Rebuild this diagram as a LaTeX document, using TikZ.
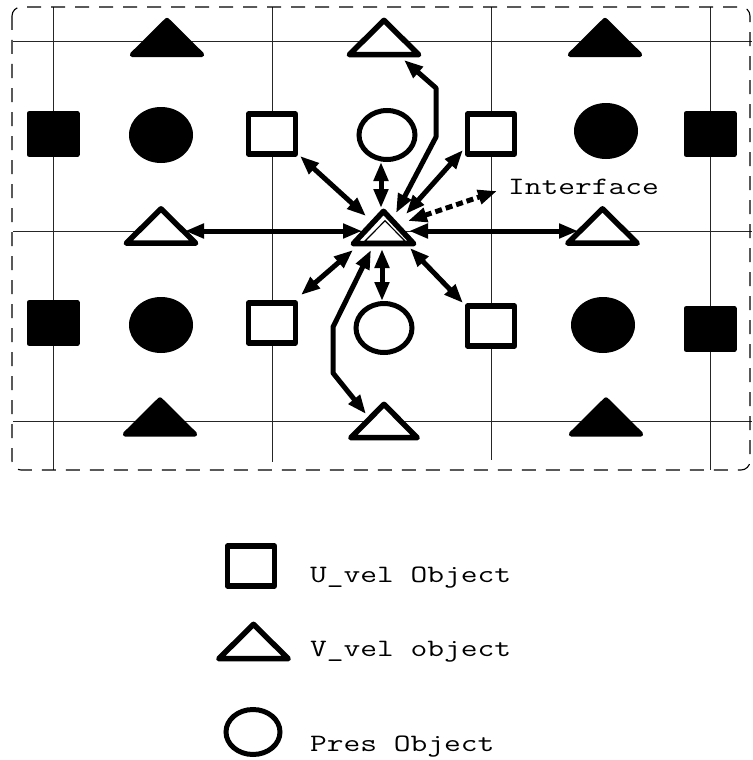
\documentclass[tikz,border=0pt]{standalone}
\usetikzlibrary{arrows.meta,shapes.geometric,calc}
\newcommand\trishape[2]{\path[#2] (#1.north) -- (#1.south east) -- (#1.south west) -- cycle;}
\newcommand\wide[1]{\scalebox{1.3}[1]{#1}}
\tikzset{
 gridline/.style={line width=1pt, black!85},
 borderline/.style={line width=1.1pt, dash pattern=on 14pt off 10pt, rounded corners=9pt},
 ubox/.style={rectangle, draw, fill=white, line width=5.5pt, line join=round, minimum width=47pt, minimum height=40pt, inner sep=0pt},
 ubfill/.style={rectangle, draw, fill=black, line width=5pt, line join=round, minimum width=48pt, minimum height=41pt, inner sep=0pt},
 pcirc/.style={ellipse, draw, fill=white, line width=5pt, minimum width=56pt, minimum height=49pt, inner sep=0pt},
 pfill/.style={ellipse, fill=black, minimum width=64pt, minimum height=56pt, inner sep=0pt},
 tribox/.style={rectangle, inner sep=0pt, minimum width=69pt, minimum height=34pt},
 triopen/.style={draw, fill=white, line width=5.5pt, line join=round},
 trifill/.style={draw, fill=black, line width=5pt, line join=round},
 dbl/.style={line width=5pt, line join=round, {Triangle[length=19pt,width=14pt]}-{Triangle[length=19pt,width=14pt]}},
 dashdbl/.style={dbl, dash pattern=on 7pt off 4pt},
 lbl/.style={font=\ttfamily\fontsize{25}{30}\selectfont, inner sep=0pt, anchor=base west},
}
\begin{document}
\begin{tikzpicture}[x=1pt,y=-1pt]
\useasboundingbox (0,0) rectangle (752,760);
% grid
\foreach \gx/\gb in {53/470,272/462,491/460,710/470} \draw[gridline] (\gx,7) -- (\gx,\gb);
\foreach \gy in {42,231,421} \draw[gridline] (13,\gy) -- (752,\gy);
\draw[borderline] (12,7) rectangle (750,470);
% row A
\node[tribox] (tA) at (167,37.5) {};
\node[tribox] (tB) at (384,37.5) {};
\node[tribox] (tC) at (605,37.5) {};
\trishape{tA}{trifill}
\trishape{tB}{triopen}
\trishape{tC}{trifill}
% row B
\node[ubfill] (sqL) at (53,134) {};
\node[pfill] (elL) at (161,135) {};
\node[ubox] (uL) at (272,134) {};
\node[pcirc] (pU) at (387,135) {};
\node[ubox] (uR) at (491,134) {};
\node[pfill] (elR) at (606,131) {};
\node[ubfill] (sqR) at (710,134) {};
% row C
\node[tribox] (vL) at (161,226) {};
\node[tribox] (vR) at (602.5,226) {};
\node[tribox, minimum width=60pt, minimum height=32pt] (ct) at (383.5,227.5) {};
\node[tribox, minimum width=40pt, minimum height=20pt] (cti) at (385,231) {};
\trishape{vL}{triopen}
\trishape{vR}{triopen}
\trishape{ct}{triopen}
\trishape{cti}{draw, line width=1.2pt}
% row D
\node[ubfill] (sqL2) at (53,323) {};
\node[pfill] (elL2) at (161,325) {};
\node[ubox] (uL2) at (272,323) {};
\node[pcirc] (pD) at (384,328) {};
\node[ubox] (uR2) at (491,326) {};
\node[pfill] (elR2) at (603,325) {};
\node[ubfill] (sqR2) at (710,329) {};
% row E
\node[tribox] (tD) at (160,417) {};
\node[tribox, minimum width=66pt, minimum height=33pt] (tE) at (384,421) {};
\node[tribox] (tF) at (606,417) {};
\trishape{tD}{trifill}
\trishape{tE}{triopen}
\trishape{tF}{trifill}
% connectors
\draw[dbl] ($(vL)+(24,5)$) -- ($(ct)+(-21.5,3.5)$);
\draw[dbl] ($(ct)+(25.5,3.5)$) -- ($(vR)+(-24.5,5)$);
\draw[dbl] ($(uL)+(28,22)$) -- ($(ct)+(-17.5,-11.5)$);
\draw[dbl] ($(pU)+(-6,27)$) -- ($(ct)+(-2.5,-19.5)$);
\draw[dbl] ($(uR)+(-28,16)$) -- ($(ct)+(22.5,-13.5)$);
\draw[dbl] ($(ct)+(12.5,-14.5)$) -- (436,137) -- (436,88) -- ($(tB)+(20,22.5)$);
\node[lbl] (ifcT) at (508,194) {\wide{Interface}};
\coordinate (ifc) at (497,191);
\draw[dashdbl] ($(ct)+(24.5,-6.5)$) -- (ifc);
\draw[dbl] ($(uL2)+(29,-28)$) -- ($(ct)+(-30.5,22.5)$);
\draw[dbl] ($(ct)+(-1.5,21.5)$) -- ($(pD)+(-2,-27)$);
\draw[dbl] ($(ct)+(26.5,20.5)$) -- ($(uR2)+(-28,-23)$);
\draw[dbl] ($(ct)+(-12.5,22.5)$) -- (333,327) -- (333,373) -- ($(tE)+(-18,-7)$);
% legend
\node[ubox] (lsq) at (251,566) {};
\node[lbl] (l1) at (310,582) {\wide{U\_vel Object}};
\node[tribox] (ltri) at (253.5,641.5) {};
\trishape{ltri}{triopen}
\node[lbl] (l2) at (310,656) {\wide{V\_vel object}};
\node[pcirc, minimum width=54pt, minimum height=45pt] (lci) at (253,732) {};
\node[lbl] (l3) at (310,751) {\wide{Pres Object}};
\end{tikzpicture}
\end{document}
